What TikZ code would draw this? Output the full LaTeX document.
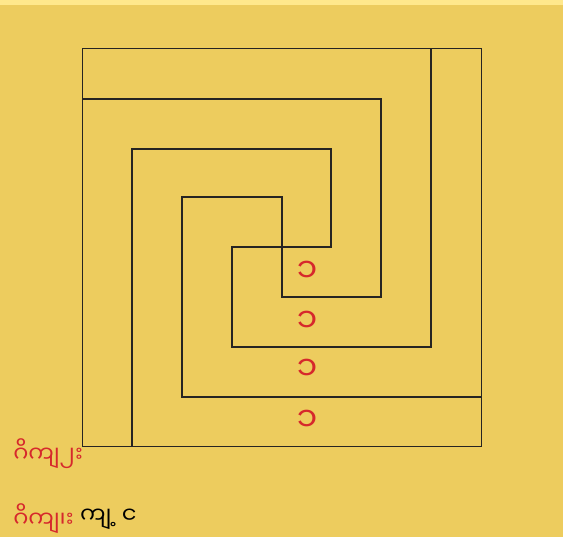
\documentclass[tikz,border=0pt]{standalone}
\usepackage{fontspec}
\newfontfamily\mmfont[Script=Myanmar]{Noto Sans Myanmar UI}
\definecolor{bgyellow}{RGB}{237,204,94}
\definecolor{topyellow}{RGB}{255,232,140}
\definecolor{labelred}{RGB}{214,40,44}
\definecolor{wallgray}{RGB}{38,36,34}
\tikzset{
  outer/.style={draw=wallgray,line width=0.75pt},
  wall/.style={draw=wallgray,line width=1.5pt},
  unitlabel/.style={inner sep=0.75pt,font=\mmfont\fontsize{25}{28}\selectfont,text=labelred},
  caption/.style={anchor=west,inner sep=0.75pt,font=\mmfont\fontsize{17}{20}\selectfont,text=labelred}
}
\begin{document}
\begin{tikzpicture}[x=0.75pt,y=0.75pt,yscale=-1,xscale=1]
 %background
 \fill [bgyellow] (0,0) rectangle (563,537);
 \fill [topyellow] (0,0) rectangle (563,5);
 \useasboundingbox (0,0) rectangle (563,537);

 %Shape: Square
 \draw [outer] (82,48) rectangle (481,446);
 %first spiral
 \draw [wall] (431,48) -- (431,347) -- (231.5,347) -- (231.5,247) -- (331,247) -- (331,149) -- (132,149) -- (132,446);
 %second spiral
 \draw [wall] (481,397) -- (182,397) -- (182,197) -- (281.5,197) -- (281.5,297) -- (381,297) -- (381,99) -- (82,99);

 % Text Node
 \node [unitlabel] (w1) at (307,272) {၁};
 \node [unitlabel] (w2) at (307,322) {၁};
 \node [unitlabel] (w3) at (307,370) {၁};
 \node [unitlabel] (w4) at (307,421) {၁};
 % Text Node
 \node [caption] (q) at (12,454) {ဂိကျ၂း};
 \node [caption] (a) at (12,519) {ဂိကျ၊း};
 \node [anchor=west,inner sep=0.75pt,font=\mmfont\fontsize{17}{20}\selectfont] (ans) at ([xshift=3pt]a.east) {ကျ့ င};
\end{tikzpicture}
\end{document}
